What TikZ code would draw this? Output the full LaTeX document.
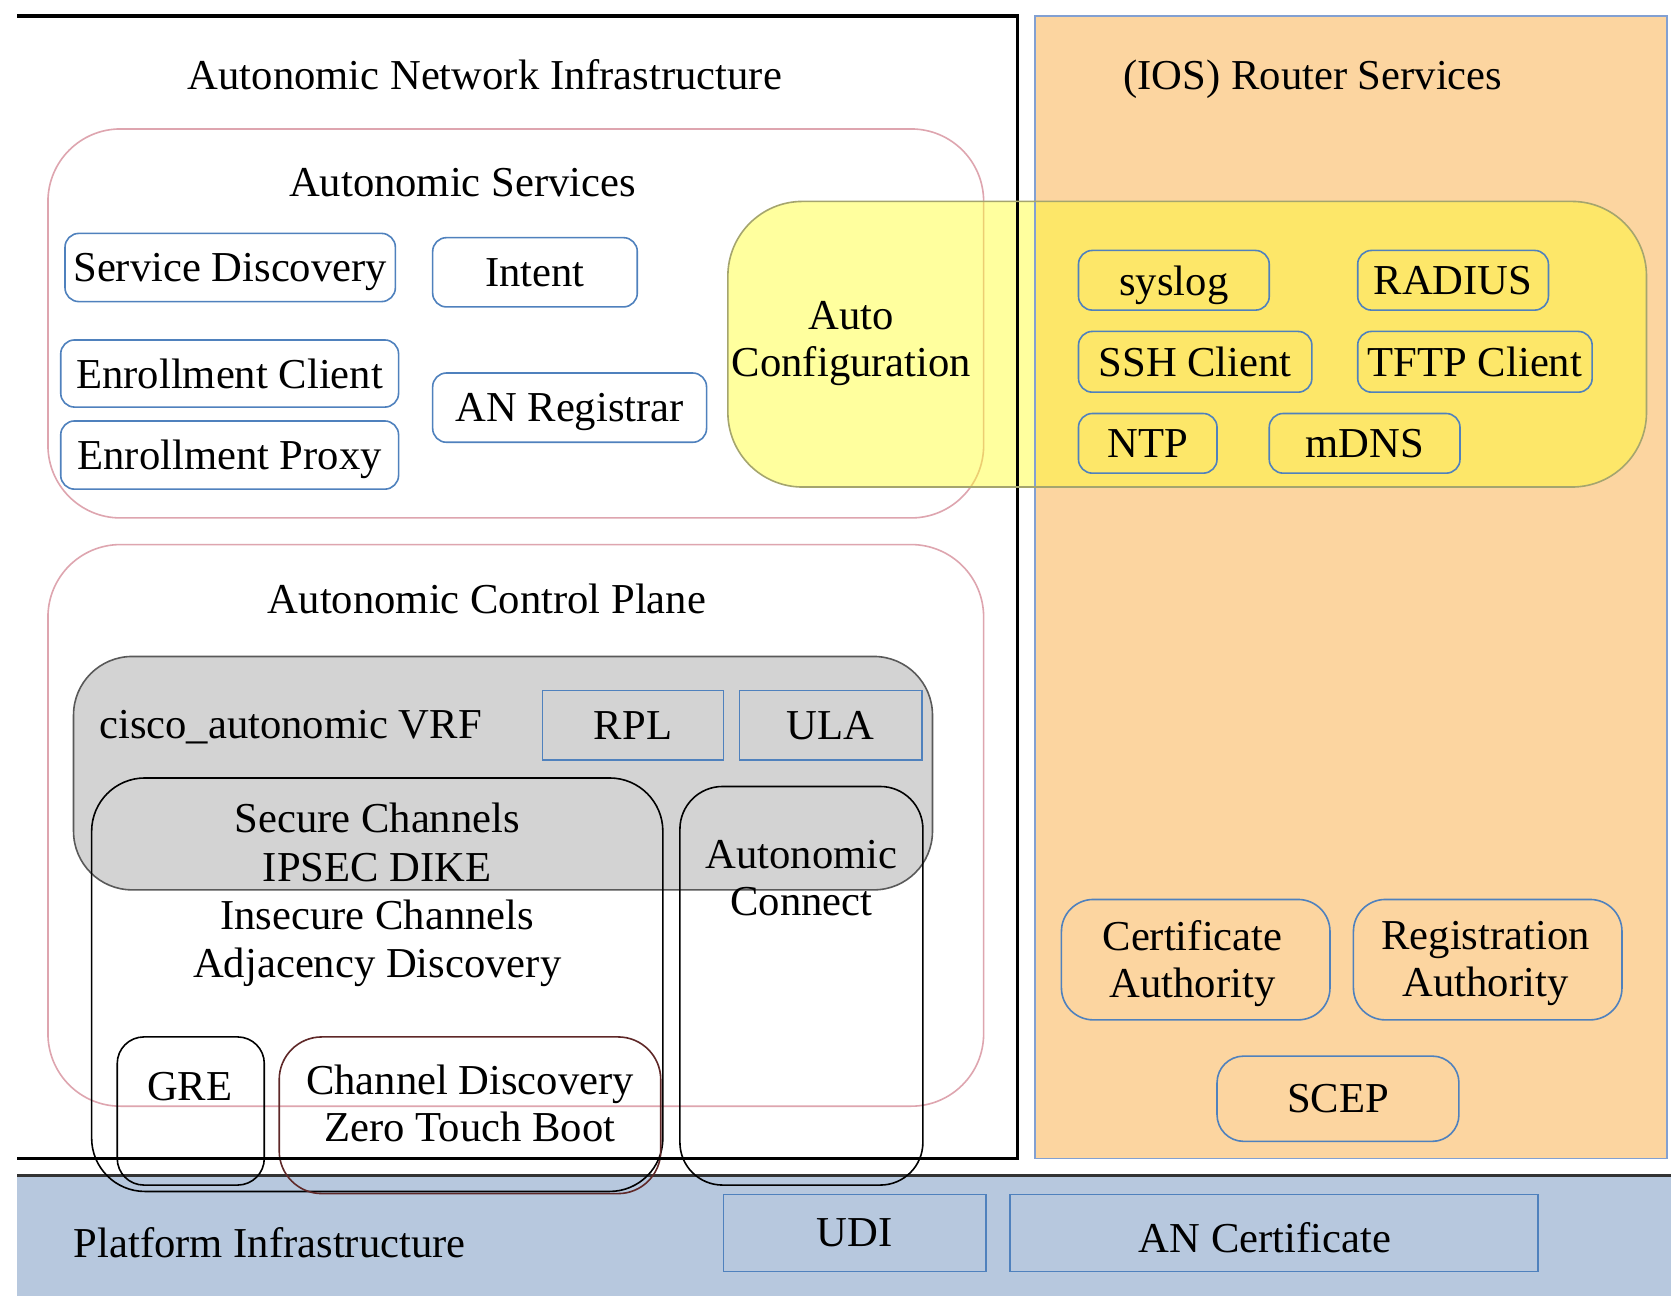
\documentclass[tikz,border=0pt]{standalone}
\usepackage{fontspec}
\setmainfont{Liberation Serif}
\definecolor{orangebg}{RGB}{252,213,160}
\definecolor{orangeborder}{RGB}{130,160,210}
\definecolor{platblue}{RGB}{183,200,222}
\definecolor{boxblue}{RGB}{79,129,189}
\definecolor{pinkline}{RGB}{222,165,175}
\definecolor{vrfgray}{RGB}{211,211,211}
\definecolor{darkred}{RGB}{95,40,40}
\definecolor{yellowborder}{RGB}{165,165,110}
\definecolor{autoyellow}{RGB}{255,255,40}
\tikzset{
  every node/.style={font=\fontsize{40}{44}\selectfont, inner sep=0pt},
  rbox/.style={draw=boxblue, line width=1.5, rounded corners=13, text depth=0pt},
  sqbox/.style={draw=boxblue, line width=1.5, text depth=0pt},
  container/.style={draw=pinkline, line width=1.5, rounded corners=68},
  blackbox/.style={draw=black, line width=1.5},
}
\begin{document}
\begin{tikzpicture}[x=1pt,y=-1pt]
\useasboundingbox (0,0) rectangle (1568,1216);
\fill[white] (0,0) rectangle (1568,1216);
% platform band
\fill[platblue] (16,1103) rectangle (1568,1216);
\draw[line width=2, black!80] (16,1103) -- (1568,1103);
% router services background
\fill[orangebg] (971,15) rectangle (1564,1087);
% Autonomic services container
\draw[container] (45,121) rectangle (923,486);
\node (astitle) at (434,171) {Autonomic Services};
\node[rbox, minimum width=310, minimum height=64] (sd) at (216,251) {Service Discovery};
\node[rbox, minimum width=192, minimum height=65] (intent) at (502,255.5) {Intent};
\node[rbox, minimum width=317, minimum height=63] (ec) at (215.5,350.5) {Enrollment Client};
\node[rbox, minimum width=317, minimum height=64] (ep) at (215.5,427) {Enrollment Proxy};
\node[rbox, minimum width=257, minimum height=65] (anr) at (534.5,382.5) {AN Registrar};
% Autonomic control plane container
\draw[container] (45,511) rectangle (923,1038);
\node (acptitle) at (457,562) {Autonomic Control Plane};
% VRF
\draw[fill=vrfgray, draw=black!65, line width=1.5, rounded corners=55] (69,616) rectangle (875,835);
\node[anchor=west] (vrf) at (93,682) {cisco\_autonomic VRF};
\node[sqbox, minimum width=170, minimum height=65] (rpl) at (594,680.5) {RPL};
\node[sqbox, minimum width=171, minimum height=65] (ula) at (779.5,680.5) {ULA};
% channels
\draw[blackbox, rounded corners=50] (86,730) rectangle (622,1118);
\node[align=center, font=\fontsize{40}{45.3}\selectfont] (sec) at (354,840)
  {Secure Channels\\IPSEC DIKE\\Insecure Channels\\Adjacency Discovery};
\draw[blackbox, rounded corners=25] (110,973) rectangle (248,1112);
\node (gre) at (178,1020) {GRE};
\draw[draw=darkred, line width=1.5, rounded corners=40] (262,973) rectangle (620,1120);
\node[align=center] (cd) at (441,1035) {Channel Discovery\\Zero Touch Boot};
\draw[blackbox, rounded corners=40] (638,738) rectangle (866,1112);
\node[align=center] (ac) at (752,824) {Autonomic\\Connect};
% router services content
\node (iostitle) at (1232,74) {(IOS) Router Services};
\node[rbox, rounded corners=30, minimum width=252, minimum height=113] (ca) at (1122,900.5) {};
\node[align=center] (catext) at (1119,904) {Certificate\\Authority};
\node[rbox, rounded corners=30, minimum width=252, minimum height=113] (ra) at (1396,900.5) {};
\node[align=center] (ratext) at (1394,904) {Registration\\Authority};
\node[rbox, rounded corners=25, minimum width=227, minimum height=80] (scep) at (1255.5,1031) {SCEP};
% auto configuration (translucent)
\fill[autoyellow, fill opacity=0.45, rounded corners=70] (683,189) rectangle (1545,457);
% ANI frame and router border
\draw[line width=3] (16,15) -- (955,15) -- (955,1087) -- (16,1087);
\draw[orangeborder, line width=1.5] (971,15) rectangle (1564,1087);
\draw[yellowborder, line width=1.5, rounded corners=70] (683,189) rectangle (1545,457);
\node[align=center] (autoconf) at (799,322) {Auto\\Configuration};
\node[rbox, minimum width=179, minimum height=56] (syslog) at (1101.5,263) {syslog};
\node[rbox, minimum width=179, minimum height=56] (radius) at (1363.5,263) {RADIUS};
\node[rbox, minimum width=219, minimum height=57] (ssh) at (1121.5,339.5) {SSH Client};
\node[rbox, minimum width=220, minimum height=57] (tftp) at (1384,339.5) {TFTP Client};
\node[rbox, minimum width=130, minimum height=56] (ntp) at (1077,416) {NTP};
\node[rbox, minimum width=179, minimum height=56] (mdns) at (1280.5,416) {mDNS};
% titles
\node (anititle) at (455,70) {Autonomic Network Infrastructure};
% platform
\node[anchor=west] (plat) at (69,1166) {Platform Infrastructure};
\node[sqbox, minimum width=246, minimum height=72] (udi) at (802,1157) {UDI};
\node[sqbox, minimum width=495, minimum height=72] (ancert) at (1195.5,1157) {};
\node (ancerttext) at (1187,1161) {AN Certificate};
\end{tikzpicture}
\end{document}
